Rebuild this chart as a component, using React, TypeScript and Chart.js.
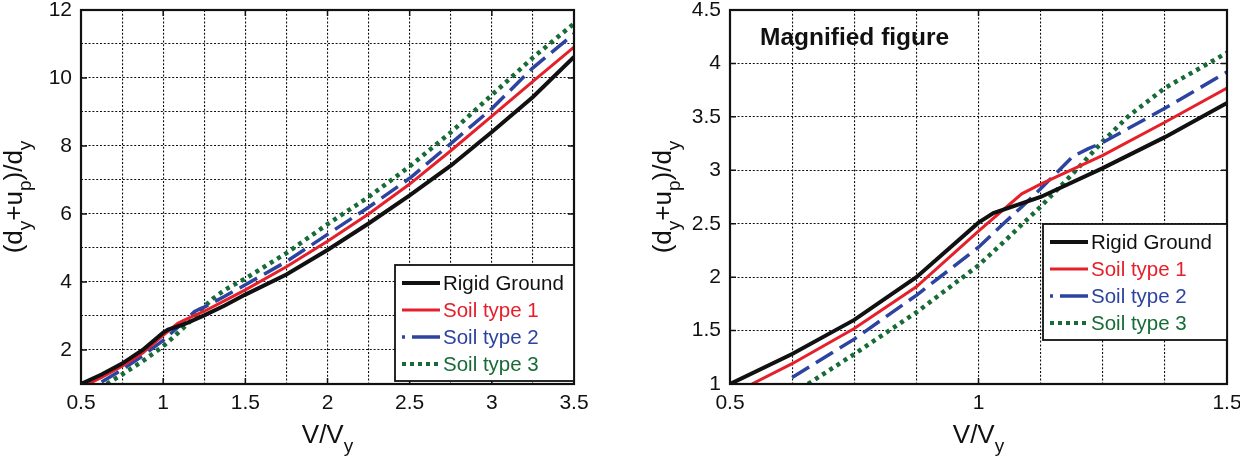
import React, { useEffect, useRef } from 'react';
import { Chart, registerables } from 'chart.js';

Chart.register(...registerables);

// V/Vy values and (dy+up)/dy values
const rigidV = [0.5, 0.625, 0.75, 0.875, 1.0, 1.03, 1.125, 1.25, 1.375, 1.5, 1.75, 2.0, 2.25, 2.5, 2.75, 3.0, 3.25, 3.5];
const rigidD = [1.0, 1.28, 1.6, 2.0, 2.51, 2.6, 2.75, 3.02, 3.31, 3.63, 4.22, 4.94, 5.72, 6.55, 7.42, 8.41, 9.44, 10.62];

const soil1V = [0.544, 0.625, 0.75, 0.875, 1.0, 1.087, 1.125, 1.25, 1.375, 1.5, 1.75, 2.0, 2.25, 2.5, 2.75, 3.0, 3.25, 3.5];
const soil1D = [1.0, 1.19, 1.52, 1.91, 2.43, 2.78, 2.87, 3.14, 3.45, 3.77, 4.45, 5.2, 6.0, 6.88, 7.86, 8.88, 9.9, 10.91];

const soil2V = [0.625, 0.75, 0.875, 1.0, 1.05, 1.09, 1.13, 1.19, 1.22, 1.25, 1.375, 1.5, 1.75, 2.0, 2.25, 2.5, 2.75, 3.0, 3.25, 3.5];
const soil2D = [1.06, 1.42, 1.83, 2.28, 2.5, 2.67, 2.85, 3.13, 3.2, 3.26, 3.58, 3.92, 4.6, 5.4, 6.2, 7.05, 8.07, 9.1, 10.3, 11.3];

const soil3V = [0.657, 0.75, 0.875, 1.0, 1.06, 1.125, 1.19, 1.25, 1.3, 1.375, 1.5, 1.75, 2.0, 2.25, 2.5, 2.75, 3.0, 3.25, 3.5];
const soil3D = [1.0, 1.28, 1.67, 2.11, 2.37, 2.66, 2.97, 3.27, 3.5, 3.77, 4.1, 4.85, 5.7, 6.5, 7.4, 8.4, 9.5, 10.6, 11.6];

const seriesLabels = ['Rigid Ground', 'Soil type 1', 'Soil type 2', 'Soil type 3'];
const noteText = 'Magnified figure';

const FONT = '"Liberation Sans", Arial, Helvetica, sans-serif';

const series = [
  { label: seriesLabels[0], v: rigidV, d: rigidD, color: '#111111', width: 4, dash: [] as number[], legendDash: [] as number[] },
  { label: seriesLabels[1], v: soil1V, d: soil1D, color: '#e5202a', width: 3, dash: [], legendDash: [] },
  { label: seriesLabels[2], v: soil2V, d: soil2D, color: '#2d43a0', width: 3.5, dash: [20, 8], legendDash: [3, 7, 28, 10] },
  { label: seriesLabels[3], v: soil3V, d: soil3D, color: '#176b37', width: 4.5, dash: [4, 4.5], legendDash: [4, 4] },
];

type Part = { t: string; sub?: boolean };
const xTitle: Part[] = [{ t: 'V/V' }, { t: 'y', sub: true }];
const yTitle: Part[] = [
  { t: '(d' }, { t: 'y', sub: true }, { t: '+u' }, { t: 'p', sub: true }, { t: ')/d' }, { t: 'y', sub: true },
];

const drawRich = (ctx: CanvasRenderingContext2D, parts: Part[], cx: number, base: number) => {
  const main = `26px ${FONT}`;
  const small = `19px ${FONT}`;
  const widths = parts.map((p) => {
    ctx.font = p.sub ? small : main;
    return ctx.measureText(p.t).width;
  });
  let x = cx - widths.reduce((a, b) => a + b, 0) / 2;
  parts.forEach((p, i) => {
    ctx.font = p.sub ? small : main;
    ctx.fillText(p.t, x, p.sub ? base + 9 : base);
    x += widths[i];
  });
};

// box, inner tick marks, axis titles, legend and note
const decor = {
  id: 'decor',
  afterDraw(chart: any, _args: any, opts: any) {
    const ctx: CanvasRenderingContext2D = chart.ctx;
    const { left, right, top, bottom } = chart.chartArea;
    ctx.save();

    // inner ticks at labelled positions
    ctx.strokeStyle = '#111';
    ctx.lineWidth = 1.5;
    ctx.beginPath();
    chart.scales.x.ticks.forEach((t: any, i: number) => {
      if (!t.label) return;
      const px = chart.scales.x.getPixelForTick(i);
      ctx.moveTo(px, bottom); ctx.lineTo(px, bottom - 6);
      ctx.moveTo(px, top); ctx.lineTo(px, top + 6);
    });
    chart.scales.y.ticks.forEach((t: any, i: number) => {
      if (!t.label) return;
      const py = chart.scales.y.getPixelForTick(i);
      ctx.moveTo(left, py); ctx.lineTo(left + 6, py);
      ctx.moveTo(right, py); ctx.lineTo(right - 6, py);
    });
    ctx.stroke();

    ctx.lineWidth = 2.2;
    ctx.strokeStyle = '#111';
    ctx.strokeRect(left, top, right - left, bottom - top);

    // axis titles
    ctx.fillStyle = '#111';
    ctx.textAlign = 'left';
    ctx.textBaseline = 'alphabetic';
    drawRich(ctx, xTitle, (left + right) / 2, bottom + 59);
    ctx.save();
    ctx.translate(left - 59, (top + bottom) / 2);
    ctx.rotate(-Math.PI / 2);
    drawRich(ctx, yTitle, 0, 0);
    ctx.restore();

    if (opts.note) {
      ctx.font = `bold 24.5px ${FONT}`;
      ctx.fillStyle = '#111';
      ctx.fillText(opts.note, left + 30, top + 35);
    }

    // legend
    const lw = opts.legendWidth;
    const lh = 116;
    const lx = right - lw;
    const ly = opts.legendTop;
    ctx.fillStyle = '#fff';
    ctx.fillRect(lx, ly, lw, lh);
    ctx.lineWidth = 1.8;
    ctx.strokeStyle = '#111';
    ctx.strokeRect(lx, ly, lw, lh);
    ctx.font = `20.5px ${FONT}`;
    ctx.textBaseline = 'middle';
    series.forEach((s, i) => {
      const ry = ly + 18 + i * 27;
      ctx.beginPath();
      ctx.setLineDash(s.legendDash);
      ctx.strokeStyle = s.color;
      ctx.lineWidth = Math.min(s.width, 4);
      ctx.moveTo(lx + 7, ry);
      ctx.lineTo(lx + 45, ry);
      ctx.stroke();
      ctx.setLineDash([]);
      ctx.fillStyle = s.color;
      ctx.fillText(s.label, lx + 48, ry + 1);
    });
    ctx.restore();
  },
};

type PanelProps = {
  x0: number;
  xMin: number; xMax: number; xStep: number; xEvery: number;
  yMin: number; yMax: number; yStep: number; yEvery: number;
  padRight: number; yWidth: number;
  legendTop: number; legendWidth: number;
  note?: string;
};

const onStep = (value: number, every: number) => Math.abs(value / every - Math.round(value / every)) < 1e-9;

const Panel: React.FC<PanelProps> = (p) => {
  const ref = useRef<HTMLCanvasElement | null>(null);
  const chartRef = useRef<Chart | null>(null);

  useEffect(() => {
    if (!ref.current) return;
    if (chartRef.current) chartRef.current.destroy();

    const tickFont = { family: FONT, size: 21 };
    chartRef.current = new Chart(ref.current, {
      type: 'line',
      data: {
        datasets: series.map((s) => ({
          label: s.label,
          data: s.v.map((v, i) => ({ x: v, y: s.d[i] })),
          borderColor: s.color,
          borderWidth: s.width,
          borderDash: s.dash,
          borderCapStyle: 'butt',
          pointRadius: 0,
          fill: false,
          tension: 0,
          clip: 0,
        })),
      },
      options: {
        animation: false,
        responsive: false,
        events: [],
        layout: { padding: { left: 0, right: p.padRight, top: 10, bottom: 0 } },
        plugins: {
          legend: { display: false },
          tooltip: { enabled: false },
          decor: { legendTop: p.legendTop, legendWidth: p.legendWidth, note: p.note },
        } as any,
        scales: {
          x: {
            type: 'linear',
            min: p.xMin,
            max: p.xMax,
            ticks: {
              stepSize: p.xStep,
              autoSkip: false,
              maxRotation: 0,
              padding: 7,
              color: '#111',
              font: tickFont,
              callback: (v: any) => (onStep(Number(v), p.xEvery) ? String(v) : ''),
            },
            grid: { color: '#111', lineWidth: 1.1, drawTicks: false },
            border: { display: false, dash: [2, 1.8] },
            afterFit: (s: any) => {
              s.height = 75;
              s.paddingLeft = 0;
              s.paddingRight = 0;
            },
          },
          y: {
            type: 'linear',
            min: p.yMin,
            max: p.yMax,
            ticks: {
              stepSize: p.yStep,
              autoSkip: false,
              padding: 9,
              color: '#111',
              font: tickFont,
              callback: (v: any) => (onStep(Number(v), p.yEvery) ? String(v) : ''),
            },
            grid: { color: '#111', lineWidth: 1.1, drawTicks: false },
            border: { display: false, dash: [2, 1.8] },
            afterFit: (s: any) => {
              s.width = p.yWidth;
              s.paddingTop = 0;
              s.paddingBottom = 0;
            },
          },
        },
      },
      plugins: [decor],
    } as any);

    return () => {
      if (chartRef.current) {
        chartRef.current.destroy();
        chartRef.current = null;
      }
    };
  }, []);

  return (
    <canvas
      ref={ref}
      width={620}
      height={459}
      style={{ position: 'absolute', left: p.x0, top: 0, width: 620, height: 459 }}
    />
  );
};

const App: React.FC = () => (
  <div style={{ position: 'absolute', left: 0, top: 0, width: 1240, height: 459, background: '#fff' }}>
    <Panel
      x0={0}
      xMin={0.5} xMax={3.5} xStep={0.25} xEvery={0.5}
      yMin={1} yMax={12} yStep={1} yEvery={2}
      padRight={46} yWidth={81}
      legendTop={265} legendWidth={179}
    />
    <Panel
      x0={620}
      xMin={0.5} xMax={1.5} xStep={0.125} xEvery={0.5}
      yMin={1} yMax={4.5} yStep={0.5} yEvery={0.5}
      padRight={13} yWidth={110}
      legendTop={224} legendWidth={184}
      note={noteText}
    />
  </div>
);

export default App;
